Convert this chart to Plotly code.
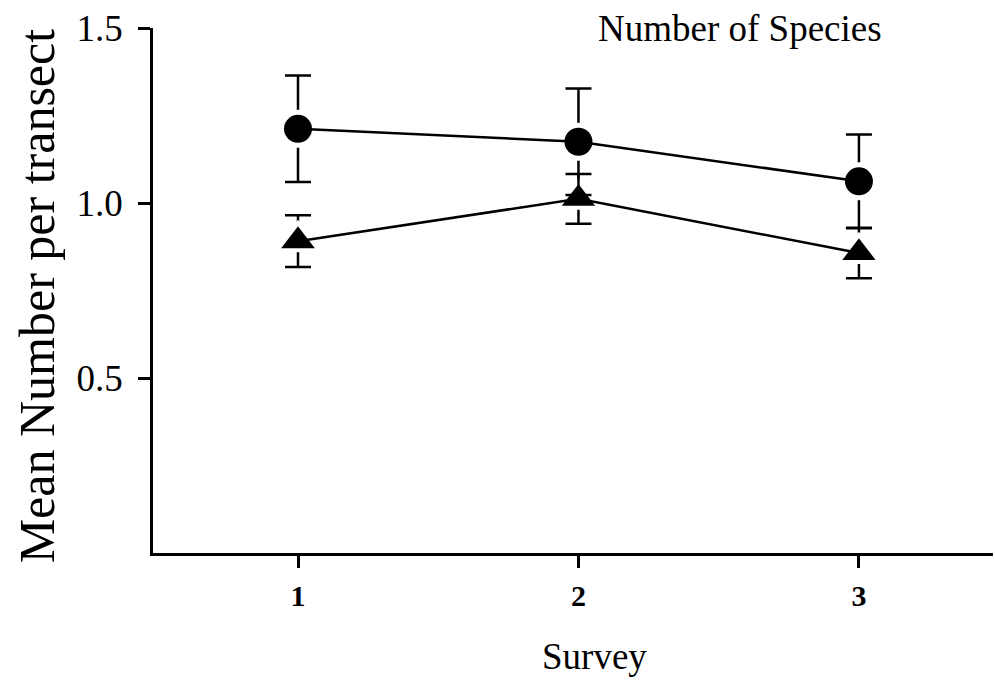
import plotly.graph_objects as go

# Survey rounds
surveys = [1, 2, 3]

# Mean number of species per transect (circles) with error half-widths
circle_mean = [1.212, 1.175, 1.062]
circle_err = [0.152, 0.152, 0.134]

# Mean number of species per transect (triangles) with error half-widths
triangle_mean = [0.891, 1.012, 0.857]
triangle_err = [0.074, 0.071, 0.072]

y_tick_vals = [0.5, 1.0, 1.5]
y_tick_text = ["0.5", "1.0", "1.5"]
x_tick_text = ["1", "2", "3"]

SERIF = "Liberation Serif, Times New Roman, serif"

fig = go.Figure()

# Triangle series: markers with a white halo so the error bars stop short of the symbol
fig.add_trace(go.Scatter(
    x=surveys, y=triangle_mean, mode="markers",
    marker=dict(symbol="triangle-up", size=36, color="black",
                line=dict(color="white", width=4)),
    error_y=dict(type="data", array=triangle_err, visible=True,
                 color="black", thickness=2.5, width=13),
    showlegend=False, hoverinfo="skip",
))

# Circle series
fig.add_trace(go.Scatter(
    x=surveys, y=circle_mean, mode="markers",
    marker=dict(symbol="circle", size=33, color="black",
                line=dict(color="white", width=5)),
    error_y=dict(type="data", array=circle_err, visible=True,
                 color="black", thickness=2.5, width=13),
    showlegend=False, hoverinfo="skip",
))

# Connecting lines drawn on top so they reach each symbol
for series in (triangle_mean, circle_mean):
    fig.add_trace(go.Scatter(
        x=surveys, y=series, mode="lines",
        line=dict(color="black", width=2.5),
        showlegend=False, hoverinfo="skip",
    ))

fig.update_layout(
    width=995, height=680,
    margin=dict(l=153, r=2, t=28, b=127),
    paper_bgcolor="white", plot_bgcolor="white",
    font=dict(family=SERIF, color="black"),
    xaxis=dict(
        range=[0.483, 3.478],
        tickvals=surveys, ticktext=x_tick_text,
        showline=True, linecolor="black", linewidth=2.5,
        ticks="outside", ticklen=12, tickwidth=2.5, tickcolor="black",
        showgrid=False, zeroline=False,
        tickfont=dict(family=SERIF, size=30, color="black", weight="bold"),
        ticklabelstandoff=2,
    ),
    yaxis=dict(
        range=[0, 1.5],
        tickvals=y_tick_vals, ticktext=y_tick_text,
        showline=True, linecolor="black", linewidth=2.5,
        ticks="outside", ticklen=12, tickwidth=2.5, tickcolor="black",
        showgrid=False, zeroline=False,
        tickfont=dict(family=SERIF, size=37, color="black"),
        ticklabelstandoff=8,
    ),
    annotations=[
        dict(text="Number of Species", x=0.699, y=1.0, xref="paper", yref="paper",
             xanchor="center", yanchor="middle", showarrow=False,
             font=dict(family=SERIF, size=37, color="black")),
        dict(text="Survey", x=0.525, y=-0.198, xref="paper", yref="paper",
             xanchor="center", yanchor="middle", showarrow=False,
             font=dict(family=SERIF, size=37, color="black")),
        dict(text="Mean Number per transect", x=-0.138, y=0.489,
             xref="paper", yref="paper", textangle=-90,
             xanchor="center", yanchor="middle", showarrow=False,
             font=dict(family=SERIF, size=50, color="black")),
    ],
)

fig.write_html("out.html")
